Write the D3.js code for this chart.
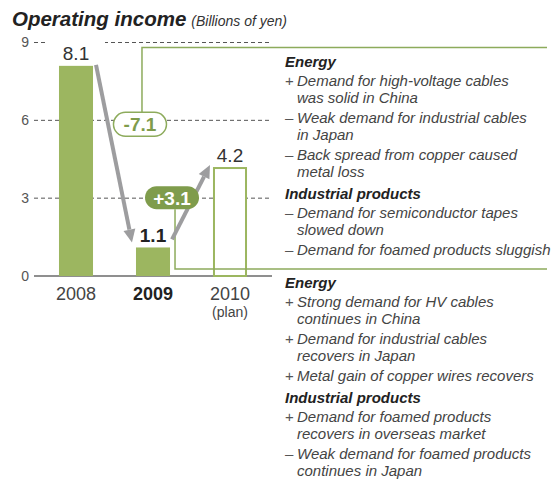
<!DOCTYPE html>
<html>
<head>
<meta charset="utf-8">
<script src="https://cdn.jsdelivr.net/npm/d3@7"></script>
<style>
  body { margin: 0; background: #fff; }
  svg { display: block; font-family: "Liberation Sans", Arial, sans-serif; }
</style>
</head>
<body>
<div id="chart"></div>
<script>
// Dados do gráfico
const categories = ["2008", "2009", "2010"];
const values = [8.1, 1.1, 4.2];
const valueLabels = ["8.1", "1.1", "4.2"];
const changeLabels = ["-7.1", "+3.1"];
const yTicks = [0, 3, 6, 9];

const notes2009 = [
    { head: "Energy" },
    { sign: "+", lines: ["Demand for high-voltage cables", "was solid in China"] },
    { sign: "–", lines: ["Weak demand for industrial cables", "in Japan"] },
    { sign: "–", lines: ["Back spread from copper caused", "metal loss"] },
    { head: "Industrial products" },
    { sign: "–", lines: ["Demand for semiconductor tapes", "slowed down"] },
    { sign: "–", lines: ["Demand for foamed products sluggish"] }
];

const notes2010 = [
    { head: "Energy" },
    { sign: "+", lines: ["Strong demand for HV cables", "continues in China"] },
    { sign: "+", lines: ["Demand for industrial cables", "recovers in Japan"] },
    { sign: "+", lines: ["Metal gain of copper wires recovers"] },
    { head: "Industrial products" },
    { sign: "+", lines: ["Demand for foamed products", "recovers in overseas market"] },
    { sign: "–", lines: ["Weak demand for foamed products", "continues in Japan"] }
];

const green = "#9cb660";
const darkGreen = "#7f9c4c";
const lineGreen = "#8dab5c";
const arrowGray = "#9d9d9f";

const W = 555, H = 479;

const svg = d3.select("#chart")
    .append("svg")
    .attr("width", W)
    .attr("height", H);

// Escalas
const x = d3.scaleBand()
    .domain(categories)
    .range([37.5, 268.5])
    .paddingInner(0.558)
    .paddingOuter(0.279);

const y = d3.scaleLinear()
    .domain([0, 9])
    .range([276, 42.5]);

const bw = x.bandwidth();

// Título
const title = svg.append("text")
    .attr("x", 12)
    .attr("y", 26);
title.append("tspan")
    .attr("font-size", 20.5)
    .attr("font-weight", "bold")
    .attr("font-style", "italic")
    .attr("fill", "#222")
    .text("Operating income");
title.append("tspan")
    .attr("font-size", 14)
    .attr("font-style", "italic")
    .attr("fill", "#333")
    .attr("dx", 5)
    .text("(Billions of yen)");

// Linhas de grelha tracejadas
svg.append("g")
    .selectAll("line")
    .data(yTicks.filter(d => d > 0))
    .enter()
    .append("line")
    .attr("x1", 34)
    .attr("x2", 272)
    .attr("y1", d => y(d))
    .attr("y2", d => y(d))
    .attr("stroke", "#555")
    .attr("stroke-width", 1)
    .attr("stroke-dasharray", "4,3");

// Eixo Y
const yAxis = svg.append("g")
    .attr("transform", "translate(29,0)")
    .call(d3.axisLeft(y).tickValues(yTicks).tickSize(0).tickPadding(0));
yAxis.select(".domain").remove();
yAxis.selectAll("text")
    .attr("font-family", "Liberation Sans, Arial, sans-serif")
    .attr("font-size", 14)
    .attr("fill", "#555");

// Linha do zero
svg.append("line")
    .attr("x1", 34)
    .attr("x2", 272)
    .attr("y1", y(0))
    .attr("y2", y(0))
    .attr("stroke", "#6a6a6a")
    .attr("stroke-width", 1.5);

// Barras (2010 é plano: só contorno)
svg.append("g")
    .selectAll("rect")
    .data(values)
    .enter()
    .append("rect")
    .attr("x", (d, i) => i === 2 ? x(categories[i]) + 1 : x(categories[i]))
    .attr("y", (d, i) => i === 2 ? y(d) + 1 : y(d))
    .attr("width", (d, i) => i === 2 ? bw - 2 : bw)
    .attr("height", (d, i) => i === 2 ? y(0) - y(d) - 1 : y(0) - y(d))
    .attr("fill", (d, i) => i === 2 ? "#fff" : green)
    .attr("stroke", (d, i) => i === 2 ? green : "none")
    .attr("stroke-width", 2);

// Fundo branco atrás do rótulo 8.1 (corta a linha do 9)
svg.append("rect")
    .attr("x", x("2008") - 12)
    .attr("y", y(9) - 4)
    .attr("width", bw + 24)
    .attr("height", 8)
    .attr("fill", "#fff");

// Rótulos dos valores
svg.append("g")
    .selectAll("text")
    .data(values)
    .enter()
    .append("text")
    .attr("x", (d, i) => x(categories[i]) + bw / 2)
    .attr("y", (d, i) => y(d) - (i === 0 ? 6 : 5))
    .attr("text-anchor", "middle")
    .attr("font-size", 19)
    .attr("font-weight", (d, i) => i === 1 ? "bold" : "normal")
    .attr("fill", (d, i) => i === 1 ? "#222" : "#333")
    .text((d, i) => valueLabels[i]);

// Rótulos das categorias
svg.append("g")
    .selectAll("text")
    .data(categories)
    .enter()
    .append("text")
    .attr("x", d => x(d) + bw / 2)
    .attr("y", 300)
    .attr("text-anchor", "middle")
    .attr("font-size", 18)
    .attr("font-weight", d => d === "2009" ? "bold" : "normal")
    .attr("fill", d => d === "2009" ? "#222" : "#444")
    .text(d => d);

svg.append("text")
    .attr("x", x("2010") + bw / 2)
    .attr("y", 317)
    .attr("text-anchor", "middle")
    .attr("font-size", 14)
    .attr("fill", "#444")
    .text("(plan)");

// Linhas verdes de ligação aos painéis de texto
const pill1 = { cx: x("2009") + 4, cy: y(6) + 4, w: 53, h: 24 };
const pill2 = { cx: x("2009") + bw + 2, cy: y(3) - 0.5, w: 54, h: 23 };

svg.append("path")
    .attr("d", `M${pill1.cx + 2},${pill1.cy - pill1.h / 2} V47.5 H547`)
    .attr("fill", "none")
    .attr("stroke", lineGreen)
    .attr("stroke-width", 1.5);

svg.append("path")
    .attr("d", `M${pill2.cx + 3},${pill2.cy + pill2.h / 2} V269 H547`)
    .attr("fill", "none")
    .attr("stroke", lineGreen)
    .attr("stroke-width", 1.5);

// Setas
function arrow(x1, y1, x2, y2) {
    const ang = Math.atan2(y2 - y1, x2 - x1);
    const headLen = 13, headW = 6;
    const bx = x2 - headLen * Math.cos(ang), by = y2 - headLen * Math.sin(ang);
    svg.append("line")
        .attr("x1", x1).attr("y1", y1)
        .attr("x2", bx).attr("y2", by)
        .attr("stroke", arrowGray)
        .attr("stroke-width", 4);
    svg.append("path")
        .attr("d", `M${x2},${y2} L${bx + headW * Math.sin(ang)},${by - headW * Math.cos(ang)} L${bx - headW * Math.sin(ang)},${by + headW * Math.cos(ang)} Z`)
        .attr("fill", arrowGray);
}

arrow(x("2008") + bw + 3, y(values[0]) - 1, x("2009") - 4, y(values[1]) - 5);
arrow(x("2009") + bw + 2, y(values[1]) - 8, x("2010") - 3, y(values[2]) - 2);

// Pílulas de variação
svg.append("rect")
    .attr("x", pill1.cx - pill1.w / 2)
    .attr("y", pill1.cy - pill1.h / 2)
    .attr("width", pill1.w)
    .attr("height", pill1.h)
    .attr("rx", pill1.h / 2)
    .attr("fill", "#fff")
    .attr("stroke", lineGreen)
    .attr("stroke-width", 1.5);
svg.append("text")
    .attr("x", pill1.cx)
    .attr("y", pill1.cy + 7)
    .attr("text-anchor", "middle")
    .attr("font-size", 19)
    .attr("font-weight", "bold")
    .attr("fill", darkGreen)
    .text(changeLabels[0]);

svg.append("rect")
    .attr("x", pill2.cx - pill2.w / 2)
    .attr("y", pill2.cy - pill2.h / 2)
    .attr("width", pill2.w)
    .attr("height", pill2.h)
    .attr("rx", pill2.h / 2)
    .attr("fill", darkGreen);
svg.append("text")
    .attr("x", pill2.cx)
    .attr("y", pill2.cy + 7)
    .attr("text-anchor", "middle")
    .attr("font-size", 19)
    .attr("font-weight", "bold")
    .attr("fill", "#fff")
    .text(changeLabels[1]);

// Painéis de texto
function drawNotes(notes, startY) {
    const g = svg.append("g");
    let yy = startY;
    let prev = null;
    notes.forEach((n, i) => {
        if (i > 0) yy += n.head ? 22 : (prev.head ? 19 : 20);
        if (n.head) {
            g.append("text")
                .attr("x", 285)
                .attr("y", yy)
                .attr("font-size", 15)
                .attr("font-weight", "bold")
                .attr("font-style", "italic")
                .attr("fill", "#222")
                .text(n.head);
        } else {
            g.append("text")
                .attr("x", 285)
                .attr("y", yy)
                .attr("font-size", 15)
                .attr("fill", "#555")
                .text(n.sign);
            n.lines.forEach((l, j) => {
                if (j > 0) yy += 17;
                g.append("text")
                    .attr("x", 297)
                    .attr("y", yy)
                    .attr("font-size", 15)
                    .attr("font-style", "italic")
                    .attr("fill", "#444")
                    .text(l);
            });
        }
        prev = n;
    });
}

drawNotes(notes2009, 67);
drawNotes(notes2010, 288);
</script>
</body>
</html>
